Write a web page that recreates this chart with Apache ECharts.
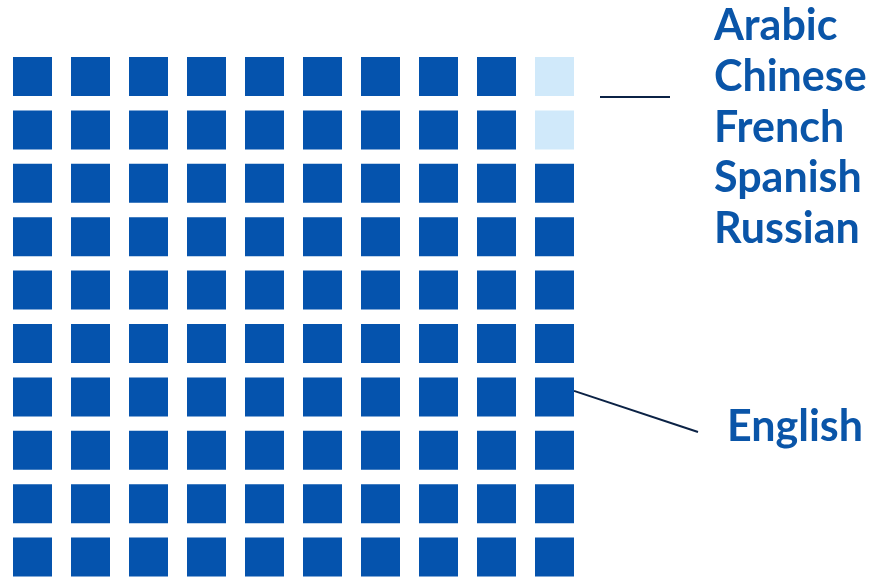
<!DOCTYPE html>
<html><head><meta charset="utf-8">
<script src="https://cdn.jsdelivr.net/npm/echarts@6/dist/echarts.min.js"></script>
<style>html,body{margin:0;padding:0;background:#fff}#c{width:884px;height:579px}</style>
</head><body><div id="c"></div>
<script>
const otherLanguages = ['Arabic', 'Chinese', 'French', 'Spanish', 'Russian'];
const groups = ['English', 'Other'];
const shares = [98, 2];
const colors = ['#0553AD', '#D0E9FA'];
const gridCols = 10, gridRows = 10;

// cells filled column by column from the right; "Other" takes the top of the last column
const order = [];
for (let c = gridCols; c >= 1; c--) for (let r = 1; r <= gridRows; r++) order.push([c, r]);
let idx = 0;
const seriesData = [[], []];
for (let g = 1; g >= 0; g--) {
  for (let k = 0; k < shares[g]; k++) { seriesData[g].push(order[idx]); idx++; }
}

const chart = echarts.init(document.getElementById('c'), null, {renderer: 'canvas'});
chart.setOption({
  animation: false,
  grid: {left: 3.5, top: 49.8, width: 580, height: 534, outerBoundsMode: 'none', containLabel: false},
  xAxis: {type: 'value', min: 0.5, max: 10.5, show: false},
  yAxis: {type: 'value', min: 0.5, max: 10.5, inverse: true, show: false},
  series: groups.map((g, i) => ({
    name: g, type: 'scatter', symbol: 'rect', symbolSize: 39, clip: false,
    itemStyle: {color: colors[i], opacity: 1}, data: seriesData[i]
  }))
});

const p1 = chart.convertToPixel({gridIndex: 0}, [10, 1]);
const p2 = chart.convertToPixel({gridIndex: 0}, [10, 7]);
const font = 'bold 43px Lato';
const textColor = '#0A55A8';
const graphics = [
  {type: 'line', shape: {x1: 600, y1: p1[1] + 20.5, x2: 670, y2: p1[1] + 20.5}, style: {stroke: '#0B2245', lineWidth: 2}},
  {type: 'line', shape: {x1: p2[0] + 19.5, y1: p2[1] - 6, x2: 698, y2: 432}, style: {stroke: '#0B2245', lineWidth: 2}},
  {type: 'text', x: 727, y: 406, style: {text: groups[0], fill: textColor, font: font}}
];
otherLanguages.forEach((l, i) => {
  graphics.push({type: 'text', x: 714, y: 5 + i * 50.6, style: {text: l, fill: textColor, font: font}});
});
chart.setOption({graphic: graphics});
</script></body></html>
